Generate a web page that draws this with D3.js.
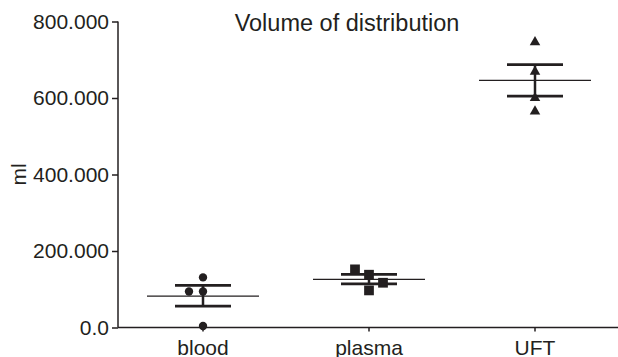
<!DOCTYPE html>
<html><head><meta charset="utf-8">
<script src="https://cdn.jsdelivr.net/npm/d3@7"></script>
<style>body{margin:0;background:#fff}svg{display:block}text{font-family:"Liberation Sans",Arial,sans-serif;fill:#231f20}</style>
</head><body>
<svg id="c" width="618" height="357"></svg>
<script>
const categories = ["blood", "plasma", "UFT"];
const bloodValues = [131, 94, 94, 4];
const plasmaValues = [152, 138, 117, 97];
const uftValues = [746, 669, 600, 565];
const means = [82, 126, 646];
const semLow = [56, 114, 605];
const semHigh = [110, 139, 687];
const yTicks = [0, 200, 400, 600, 800];
const yTickLabels = ["0.0", "200.000", "400.000", "600.000", "800.000"];
const symbols = ["circle", "square", "triangle"];

const svg = d3.select("#c");
const L = 118, R = 618, T = 21.5, B = 327.5;
const x = d3.scaleBand().domain(categories).range([120, R]);
const y = d3.scaleLinear().domain([0, 800]).range([B, T]);
const col = "#231f20";

// axes
const ya = svg.append("g").attr("transform", `translate(${L},0)`)
  .call(d3.axisLeft(y).tickValues(yTicks).tickFormat((d,i)=>yTickLabels[i]).tickSize(6).tickPadding(3));
const xa = svg.append("g").attr("transform", `translate(0,${B})`)
  .call(d3.axisBottom(x).tickSize(4).tickPadding(8.5));
[ya, xa].forEach(g => {
  g.select(".domain").attr("stroke", col).attr("stroke-width", 1.5);
  g.selectAll(".tick line").attr("stroke", col).attr("stroke-width", 1.5);
  g.selectAll("text").style("font-size", "21px").attr("fill", col);
});
xa.select(".domain").attr("d", `M${L},0H${R}`);
ya.select(".domain").attr("d", `M0,${B}V${T}`);

svg.append("text").attr("x", 347).attr("y", 30.5).attr("text-anchor", "middle")
  .style("font-size", "23.5px").text("Volume of distribution");
svg.append("text").attr("transform", `translate(26,${(T+B)/2}) rotate(-90)`).attr("text-anchor", "middle")
  .style("font-size", "21px").text("ml");

const bw = 56;
const groups = [bloodValues, plasmaValues, uftValues];
const symMap = {circle: d3.symbolCircle, square: d3.symbolSquare, triangle: d3.symbolTriangle};
const symSize = {circle: 55, square: 95, triangle: 48};
groups.forEach((vals, gi) => {
  const cx = x(categories[gi]) + x.bandwidth()/2;
  const g = svg.append("g");
  vals.forEach((v, i) => {
    let dx = 0;
    if (gi === 0) dx = [0, -14, 0, 0][i];
    if (gi === 1) dx = [-14, 0, 14, 0][i];
    g.append("path").attr("d", d3.symbol().type(symMap[symbols[gi]]).size(symSize[symbols[gi]])())
      .attr("transform", `translate(${cx+dx},${y(v)})`).attr("fill", col);
  });
  g.append("line").attr("x1", cx-bw).attr("x2", cx+bw).attr("y1", y(means[gi])).attr("y2", y(means[gi]))
    .attr("stroke", col).attr("stroke-width", 1.3);
  g.append("line").attr("x1", cx).attr("x2", cx).attr("y1", y(semLow[gi])).attr("y2", y(semHigh[gi]))
    .attr("stroke", col).attr("stroke-width", 2.5);
  [semLow[gi], semHigh[gi]].forEach(v => {
    g.append("line").attr("x1", cx-bw/2).attr("x2", cx+bw/2).attr("y1", y(v)).attr("y2", y(v))
      .attr("stroke", col).attr("stroke-width", 2.8);
  });
});
</script>
</body></html>
